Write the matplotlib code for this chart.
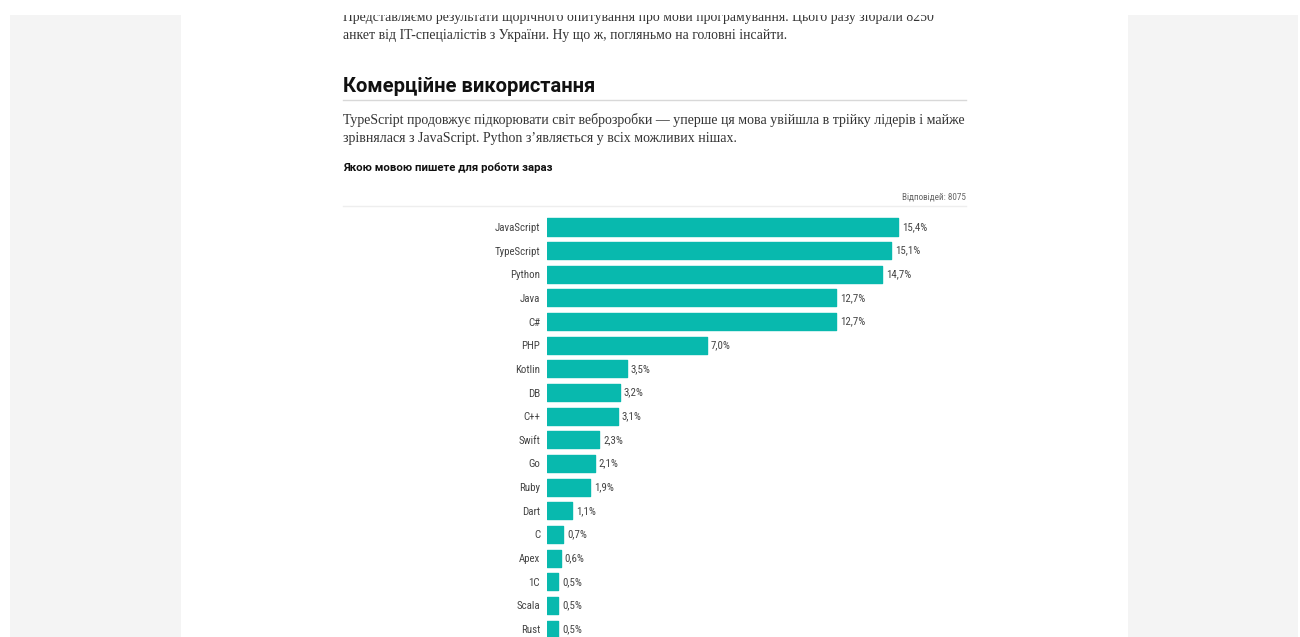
import matplotlib
matplotlib.use("Agg")
import matplotlib.pyplot as plt
from matplotlib.patches import Rectangle
from matplotlib.lines import Line2D

W, H = 1300, 637

categories = ["JavaScript", "TypeScript", "Python", "Java", "C#", "PHP", "Kotlin",
              "DB", "C++", "Swift", "Go", "Ruby", "Dart", "C", "Apex", "1C",
              "Scala", "Rust"]
values = [15.4, 15.1, 14.7, 12.7, 12.7, 7.0, 3.5, 3.2, 3.1, 2.3, 2.1, 1.9,
          1.1, 0.7, 0.6, 0.5, 0.5, 0.5]

intro_lines = [
    "Представляємо результати щорічного опитування про мови програмування. Цього разу зібрали 8250",
    "анкет від IT-спеціалістів з України. Ну що ж, погляньмо на головні інсайти.",
]
heading = "Комерційне використання"
para_lines = [
    "TypeScript продовжує підкорювати світ веброзробки — уперше ця мова увійшла в трійку лідерів і майже",
    "зрівнялася з JavaScript. Python з’являється у всіх можливих нішах.",
]
chart_title = "Якою мовою пишете для роботи зараз"
responses = "Відповідей: 8075"

BAR_COLOR = "#08b9ae"
SANS = ["Roboto Condensed", "Roboto", "DejaVu Sans"]
SERIF = ["Liberation Serif", "DejaVu Serif"]


def fx(x):
    return x / W


def fy(y):
    return 1 - y / H


fig = plt.figure(figsize=(W / 100, H / 100), dpi=100)
fig.patch.set_facecolor("white")

# page background panels
fig.add_artist(Rectangle((fx(10), fy(637)), fx(1288), (637 - 15) / H,
                         transform=fig.transFigure, facecolor="#f4f4f4",
                         edgecolor="none", zorder=0))
fig.add_artist(Rectangle((fx(181), fy(637)), fx(947), (637 - 15) / H,
                         transform=fig.transFigure, facecolor="white",
                         edgecolor="none", zorder=0.5))

# intro text
for i, line in enumerate(intro_lines):
    fig.text(fx(343), fy(17 + 19 * i), line, ha="left", va="center",
             fontsize=9.95, family=SERIF, color="#333333", zorder=2)
# cover clipped top
fig.add_artist(Rectangle((0, fy(15)), 1, 15 / H, transform=fig.transFigure,
                         facecolor="white", edgecolor="none", zorder=5))

fig.text(fx(343), fy(86), heading, ha="left", va="center", fontsize=14.5,
         family=["Roboto", "DejaVu Sans"], weight="bold", color="#111111", zorder=2)
fig.add_artist(Line2D([fx(343), fx(966)], [fy(99.5), fy(99.5)],
                      transform=fig.transFigure, color="#d8d8d8", lw=1, zorder=2))

for i, line in enumerate(para_lines):
    fig.text(fx(343), fy(120 + 18.5 * i), line, ha="left", va="center",
             fontsize=10.0, family=SERIF, color="#333333", zorder=2)

fig.text(fx(343), fy(168), chart_title, ha="left", va="center", fontsize=8.2,
         family=["Roboto", "DejaVu Sans"], weight="bold", color="#111111", zorder=2)
fig.text(fx(966), fy(197), responses, ha="right", va="center", fontsize=6.6,
         family=SANS, color="#666666", zorder=2)
fig.add_artist(Line2D([fx(343), fx(966)], [fy(205.5), fy(205.5)],
                      transform=fig.transFigure, color="#eeeeee", lw=1, zorder=2))

# bar chart axes
n = len(categories)
row0 = 227.0
step = 23.65
px_per_unit = 22.79
xmax = 16
left_px = 547
top_px = row0 - 0.5 * step
bottom_px = row0 + (n - 0.5) * step
ax = fig.add_axes([fx(left_px), fy(bottom_px), px_per_unit * xmax / W,
                   (bottom_px - top_px) / H], zorder=3)
ax.set_facecolor("none")
ypos = list(range(n))
ax.barh(ypos, values, height=0.72, color=BAR_COLOR, edgecolor=BAR_COLOR,
        linewidth=1.0, joinstyle="round")
ax.set_xlim(0, xmax)
ax.set_ylim(n - 0.5, -0.5)
ax.set_yticks(ypos)
ax.set_yticklabels(categories, family=SANS, fontsize=7.8, color="#444444")
ax.tick_params(axis="y", length=0, pad=5)
ax.set_xticks([])
for s in ax.spines.values():
    s.set_visible(False)
for y, v in zip(ypos, values):
    ax.text(v + 4 / px_per_unit, y, f"{v:.1f}%".replace(".", ","), va="center",
            ha="left", family=SANS, fontsize=7.8, color="#444444", clip_on=False)

fig.savefig("out.png", dpi=100, facecolor="white")
